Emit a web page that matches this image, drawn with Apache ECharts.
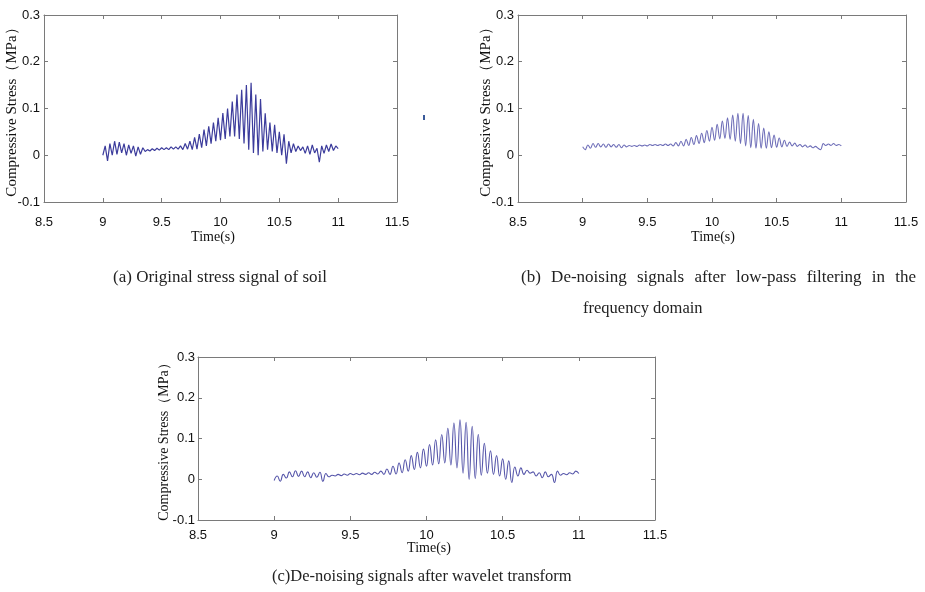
<!DOCTYPE html>
<html>
<head>
<meta charset="utf-8">
<script src="https://cdn.jsdelivr.net/npm/echarts@6/dist/echarts.min.js"></script>
<style>html,body{margin:0;padding:0;background:#fff;}#main{width:925px;height:592px;}</style>
</head>
<body>
<div id="main"></div>
<script>
// Time stamps (s)
var times = [9.00,9.02,9.04,9.06,9.08,9.10,9.12,9.14,9.16,9.18,9.20,9.22,9.24,9.26,9.28,9.30,9.32,9.34,9.36,9.38,
9.40,9.42,9.44,9.46,9.48,9.50,9.52,9.54,9.56,9.58,9.60,9.62,9.64,9.66,9.68,9.70,9.72,9.74,9.76,9.78,
9.80,9.82,9.84,9.86,9.88,9.90,9.92,9.94,9.96,9.98,10.00,10.02,10.04,10.06,10.08,10.10,10.12,10.14,10.16,10.18,
10.20,10.22,10.24,10.26,10.28,10.30,10.32,10.34,10.36,10.38,10.40,10.42,10.44,10.46,10.48,10.50,10.52,10.54,10.56,10.58,
10.60,10.62,10.64,10.66,10.68,10.70,10.72,10.74,10.76,10.78,10.80,10.82,10.84,10.86,10.88,10.90,10.92,10.94,10.96,10.98,11.00];

// (a) Original stress signal (MPa)
var originalStress = [0.0,0.02,-0.012,0.025,0.0,0.03,0.002,0.028,0.005,0.025,
0.0,0.022,0.004,0.02,-0.002,0.018,0.002,0.016,0.008,0.012,
0.009,0.014,0.01,0.015,0.011,0.016,0.012,0.016,0.012,0.018,
0.013,0.018,0.013,0.02,0.012,0.025,0.013,0.03,0.012,0.038,
0.013,0.045,0.016,0.055,0.02,0.062,0.025,0.07,0.03,0.08,
0.032,0.09,0.035,0.1,0.04,0.115,0.04,0.13,0.035,0.14,
0.025,0.15,0.012,0.155,0.005,0.13,0.0,0.12,0.008,0.09,
0.012,0.07,0.008,0.065,0.005,0.05,0.0,0.045,-0.018,0.03,
0.005,0.025,0.008,0.02,0.01,0.018,0.004,0.02,0.002,0.022,
0.005,0.015,-0.015,0.02,0.004,0.022,0.008,0.024,0.01,0.02,0.014];

// (b) Low-pass filtered signal (MPa)
var lowPassStress = [0.018,0.012,0.022,0.015,0.025,0.017,0.025,0.018,0.024,0.017,
0.024,0.018,0.023,0.017,0.023,0.016,0.022,0.018,0.021,0.019,
0.021,0.019,0.022,0.02,0.022,0.02,0.023,0.021,0.023,0.021,
0.023,0.021,0.024,0.021,0.024,0.02,0.027,0.02,0.03,0.02,
0.034,0.021,0.038,0.023,0.042,0.025,0.047,0.027,0.053,0.03,
0.06,0.032,0.066,0.035,0.073,0.036,0.08,0.034,0.086,0.03,
0.09,0.025,0.09,0.02,0.085,0.016,0.077,0.015,0.068,0.015,
0.058,0.015,0.05,0.016,0.043,0.017,0.037,0.018,0.032,0.019,
0.028,0.02,0.026,0.019,0.023,0.018,0.022,0.017,0.02,0.016,
0.019,0.015,0.012,0.025,0.021,0.024,0.021,0.025,0.021,0.023,0.02];

// (c) Wavelet de-noised signal (MPa)
var waveletStress = [-0.003,0.008,-0.005,0.012,0.003,0.018,0.006,0.021,0.007,0.02,
0.006,0.018,0.004,0.016,0.005,0.017,-0.005,0.014,0.006,0.01,
0.008,0.012,0.009,0.013,0.01,0.014,0.011,0.014,0.011,0.015,
0.012,0.016,0.012,0.017,0.013,0.02,0.012,0.025,0.012,0.032,
0.013,0.04,0.016,0.048,0.02,0.058,0.024,0.066,0.028,0.074,
0.032,0.085,0.035,0.097,0.038,0.11,0.04,0.125,0.035,0.138,
0.028,0.146,0.015,0.14,0.0,0.13,0.002,0.11,0.01,0.088,
0.015,0.07,0.012,0.058,0.008,0.05,0.0,0.045,-0.008,0.03,
0.008,0.028,0.012,0.022,0.015,0.018,0.008,0.016,0.004,0.018,
0.006,0.012,-0.008,0.02,0.01,0.014,0.011,0.016,0.013,0.02,0.014];

var xTicks = ['8.5','9','9.5','10','10.5','11','11.5'];
var yTicks = ['-0.1','0','0.1','0.2','0.3'];

var chart = echarts.init(document.getElementById('main'));
var tickFont = "'Liberation Sans','Arial',sans-serif";
var serif = "'Liberation Serif','Times New Roman',serif";
var yTitle = 'Compressive Stress（MPa）';
var axisColor = '#7a7a7a';

function fmtX(v){ var s = String(Math.round(v*10)/10); return xTicks.indexOf(s) >= 0 ? s : ''; }
function fmtY(v){ var s = String(Math.round(v*10)/10); return yTicks.indexOf(s) >= 0 ? s : ''; }

function xAxes(gi, margin){
  return [
    {gridIndex:gi, type:'value', min:8.5, max:11.5, interval:0.5, position:'bottom',
     axisLine:{show:true, onZero:false, lineStyle:{color:axisColor, width:1}},
     axisTick:{show:true, inside:true, length:4, lineStyle:{color:axisColor}},
     axisLabel:{show:true, color:'#111', fontFamily:tickFont, fontSize:13, margin:margin, formatter:fmtX, showMinLabel:true, showMaxLabel:true},
     splitLine:{show:false}},
    {gridIndex:gi, type:'value', min:8.5, max:11.5, interval:0.5, position:'top',
     axisLine:{show:true, onZero:false, lineStyle:{color:axisColor, width:1}},
     axisTick:{show:true, inside:true, length:4, lineStyle:{color:axisColor}},
     axisLabel:{show:false}, splitLine:{show:false}}
  ];
}
function yAxes(gi, gap, fs, lblMargin){
  return [
    {gridIndex:gi, type:'value', min:-0.1, max:0.3, interval:0.1, position:'left',
     name:yTitle, nameLocation:'middle', nameGap:gap, nameRotate:90, nameMoveOverlap:false,
     nameTextStyle:{fontFamily:serif, fontSize:fs, color:'#111'},
     axisLine:{show:true, onZero:false, lineStyle:{color:axisColor, width:1}},
     axisTick:{show:true, inside:true, length:4, lineStyle:{color:axisColor}},
     axisLabel:{show:true, color:'#111', fontFamily:tickFont, fontSize:13, margin:lblMargin, formatter:fmtY, showMinLabel:true, showMaxLabel:true},
     splitLine:{show:false}},
    {gridIndex:gi, type:'value', min:-0.1, max:0.3, interval:0.1, position:'right',
     axisLine:{show:true, onZero:false, lineStyle:{color:axisColor, width:1}},
     axisTick:{show:true, inside:true, length:4, lineStyle:{color:axisColor}},
     axisLabel:{show:false}, splitLine:{show:false}}
  ];
}
function pairs(vals){ return times.map(function(t,i){ return [t, vals[i]]; }); }

// justified caption line (b), spread across its column width
var captionB1 = ['(b)','De-noising','signals','after','low-pass','filtering','in','the'];
var capSize = 17;
var ctx = document.createElement('canvas').getContext('2d');
ctx.font = capSize + 'px "Liberation Serif", serif';
var bLeft = 521, bRight = 916;
var widths = captionB1.map(function(w){ return ctx.measureText(w).width; });
var total = widths.reduce(function(a,b){ return a+b; }, 0);
var gapW = (bRight - bLeft - total) / (captionB1.length - 1);
var graphics = [];
var cx = bLeft;
captionB1.forEach(function(w, i){
  graphics.push({type:'text', x:cx, y:278, style:{text:w, fontFamily:serif, fontSize:capSize, fill:'#222', align:'left', verticalAlign:'middle'}});
  cx += widths[i] + gapW;
});
graphics = graphics.concat([
  {type:'text', x:213, y:237, style:{text:'Time(s)', fontFamily:serif, fontSize:14, fill:'#111', align:'center', verticalAlign:'middle'}},
  {type:'text', x:713, y:237, style:{text:'Time(s)', fontFamily:serif, fontSize:14, fill:'#111', align:'center', verticalAlign:'middle'}},
  {type:'text', x:429, y:548, style:{text:'Time(s)', fontFamily:serif, fontSize:14, fill:'#111', align:'center', verticalAlign:'middle'}},
  {type:'text', x:220, y:278, style:{text:'(a) Original stress signal of soil', fontFamily:serif, fontSize:capSize, fill:'#222', align:'center', verticalAlign:'middle'}},
  {type:'text', x:583, y:309, style:{text:'frequency domain', fontFamily:serif, fontSize:16.5, fill:'#222', align:'left', verticalAlign:'middle'}},
  {type:'text', x:272, y:577, style:{text:'(c)De-noising signals after wavelet transform', fontFamily:serif, fontSize:16.5, fill:'#222', align:'left', verticalAlign:'middle'}},
  {type:'rect', shape:{x:423, y:115, width:2, height:5}, style:{fill:'#3a5a9a'}}
]);

var option = {
  backgroundColor:'#fff',
  animation:false,
  grid:[
    {left:44, top:15, width:353, height:187, show:false},
    {left:518, top:15, width:388, height:187, show:false},
    {left:198, top:357, width:457, height:163, show:false}
  ],
  xAxis: [].concat(xAxes(0, 14), xAxes(1, 14), xAxes(2, 9)),
  yAxis: [].concat(yAxes(0, 24, 15, 4), yAxes(1, 24, 15, 4), yAxes(2, 27, 14, 3)),
  series:[
    {type:'line', xAxisIndex:0, yAxisIndex:0, data:pairs(originalStress), showSymbol:false, smooth:false,
     lineStyle:{color:'#3c3c9c', width:1.2}},
    {type:'line', xAxisIndex:2, yAxisIndex:2, data:pairs(lowPassStress), showSymbol:false, smooth:0.4,
     lineStyle:{color:'#6e6eb8', width:1.1}},
    {type:'line', xAxisIndex:4, yAxisIndex:4, data:pairs(waveletStress), showSymbol:false, smooth:0.5,
     lineStyle:{color:'#5656aa', width:1.1}}
  ],
  graphic: graphics
};
chart.setOption(option);
</script>
</body>
</html>
